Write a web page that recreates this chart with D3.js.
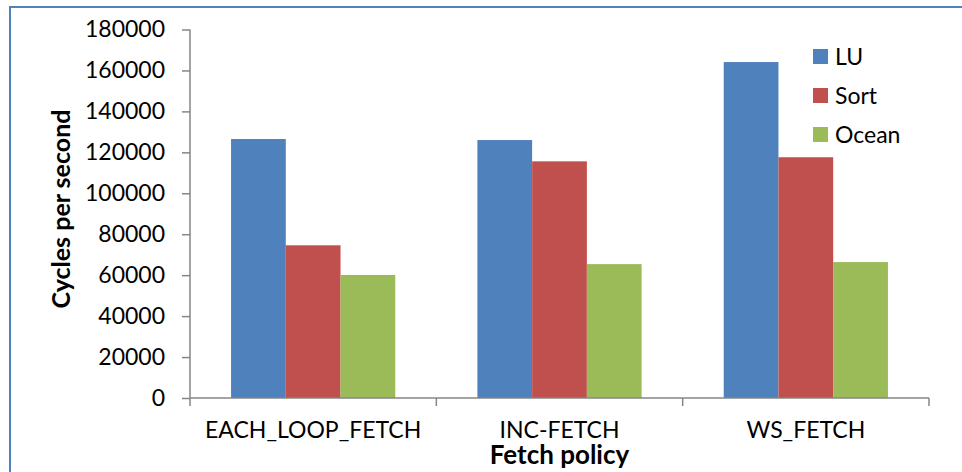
<!DOCTYPE html>
<html>
<head>
<meta charset="utf-8">
<script src="https://cdn.jsdelivr.net/npm/d3@7"></script>
<style>
  html, body { margin: 0; padding: 0; background: #fff; }
  svg { display: block; }
  text { font-family: Lato, "Open Sans", sans-serif; fill: #000; }
</style>
</head>
<body>
<svg id="chart" width="962" height="472"></svg>
<script>
const categories = ["EACH_LOOP_FETCH", "INC-FETCH", "WS_FETCH"];
const seriesNames = ["LU", "Sort", "Ocean"];
const luValues = [126500, 126000, 164100];
const sortValues = [74600, 115600, 117600];
const oceanValues = [60100, 65400, 66400];
const yTicks = [0, 20000, 40000, 60000, 80000, 100000, 120000, 140000, 160000, 180000];
const colors = ["#4f81bd", "#c0504d", "#9bbb59"];

const seriesValues = [luValues, sortValues, oceanValues];
const data = categories.map((c, i) => ({
  category: c,
  values: seriesNames.map((s, j) => ({ series: s, value: seriesValues[j][i] }))
}));

const svg = d3.select("#chart");

// Outer border
svg.append("rect")
  .attr("x", 10).attr("y", 7).attr("width", 1000).attr("height", 500)
  .attr("fill", "none").attr("stroke", "#4f81bd").attr("stroke-width", 2);

const plotLeft = 190, plotRight = 929, plotTop = 29.5, plotBottom = 398;

const x = d3.scaleBand().domain(categories).range([plotLeft, plotRight]).padding(0);
const xInner = d3.scaleBand().domain(seriesNames)
  .range([x.bandwidth() / 6, x.bandwidth() * 5 / 6]).padding(0);
const y = d3.scaleLinear().domain([0, 180000]).range([plotBottom, plotTop]);

// Bars
const groups = svg.append("g").selectAll("g").data(data).join("g")
  .attr("transform", d => `translate(${x(d.category)},0)`);
groups.selectAll("rect").data(d => d.values).join("rect")
  .attr("x", d => xInner(d.series))
  .attr("y", d => y(d.value))
  .attr("width", xInner.bandwidth())
  .attr("height", d => y(0) - y(d.value))
  .attr("fill", (d, i) => colors[i]);

// Y axis
const yAxis = d3.axisLeft(y).tickValues(yTicks).tickFormat(d3.format("d")).tickSize(8).tickPadding(17);
const gy = svg.append("g").attr("transform", `translate(${plotLeft},0)`).call(yAxis);
gy.select(".domain").attr("stroke", "#868686").attr("stroke-width", 1.5).attr("d", `M0,${plotTop}V${plotBottom}`);
gy.selectAll(".tick line").attr("stroke", "#868686").attr("stroke-width", 1.5);
gy.selectAll(".tick text").attr("font-size", 23).attr("font-family", "Lato, sans-serif").attr("fill", "#000");

// X axis
const xAxis = d3.axisBottom(x).tickSize(0).tickPadding(24);
const gx = svg.append("g").attr("transform", `translate(0,${plotBottom})`).call(xAxis);
gx.select(".domain").attr("stroke", "#868686").attr("stroke-width", 1.5).attr("d", `M${plotLeft},0H${plotRight}`);
gx.selectAll(".tick text").attr("font-size", 23).attr("font-family", "Lato, sans-serif").attr("fill", "#000");
// category boundary ticks
const bounds = categories.map(c => x(c)).concat([x(categories[categories.length - 1]) + x.bandwidth()]);
gx.selectAll(".bound").data(bounds).join("line").attr("class", "bound")
  .attr("x1", d => d).attr("x2", d => d).attr("y1", 0).attr("y2", 8)
  .attr("stroke", "#868686").attr("stroke-width", 1.5);

// Axis titles
svg.append("text")
  .attr("transform", `translate(70,209) rotate(-90)`)
  .attr("text-anchor", "middle")
  .attr("font-size", 25).attr("font-weight", "bold")
  .text("Cycles per second");
svg.append("text")
  .attr("x", (plotLeft + plotRight) / 2).attr("y", 464)
  .attr("text-anchor", "middle")
  .attr("font-size", 26).attr("font-weight", "bold")
  .text("Fetch policy");

// Legend
const legend = svg.append("g").selectAll("g").data(seriesNames).join("g")
  .attr("transform", (d, i) => `translate(813,${49 + i * 39})`);
legend.append("rect").attr("width", 15).attr("height", 15).attr("fill", (d, i) => colors[i]);
legend.append("text").attr("x", 22).attr("y", 8).attr("dy", "0.35em")
  .attr("font-size", 23).text(d => d);
</script>
</body>
</html>
